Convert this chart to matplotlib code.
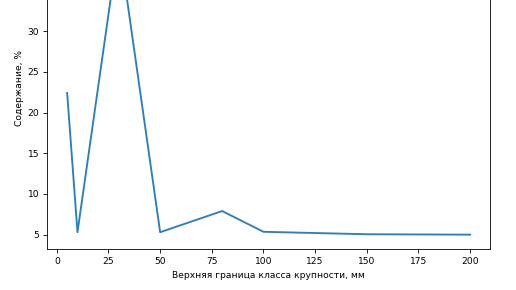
import matplotlib
matplotlib.use("Agg")
import matplotlib.pyplot as plt

sizes = [5, 10, 30, 50, 80, 100, 150, 200]
content = [22.4, 5.3, 41.0, 5.3, 7.9, 5.35, 5.05, 5.0]
yticks = [5, 10, 15, 20, 25, 30]

xlabel = "Верхняя граница класса крупности, мм"
ylabel = "Содержание, %"

fs = 6.6
plt.rcParams.update({
    "font.size": fs,
    "xtick.major.size": 2.7,
    "ytick.major.size": 2.7,
    "xtick.major.width": 0.6,
    "ytick.major.width": 0.6,
    "xtick.major.pad": 2.8,
    "ytick.major.pad": 2.8,
    "axes.linewidth": 0.6,
})

fig = plt.figure(figsize=(5.16, 2.90), dpi=100)
ax = fig.add_axes([47.0 / 516, (290 - 249.3) / 290, (490.3 - 47.0) / 516, (249.3 + 73) / 290])
ax.plot(sizes, content, color="#2a7fbf", linewidth=1.35)
ax.set_yticks(yticks)
ax.set_xlabel(xlabel, fontsize=fs, labelpad=3.5)
ax.set_ylabel(ylabel, fontsize=fs, labelpad=2.5)
ax.tick_params(labelsize=fs)
fig.savefig("out.png", dpi=100)
